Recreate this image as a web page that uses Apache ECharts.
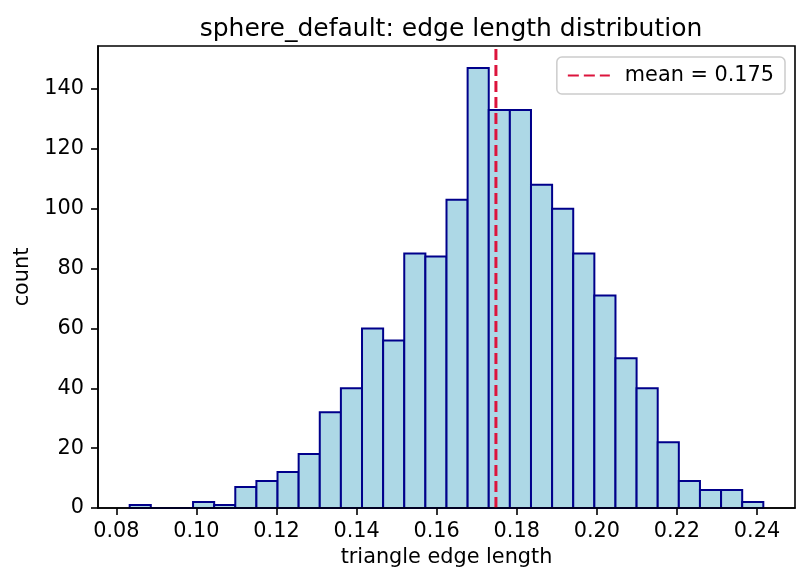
<!DOCTYPE html>
<html>
<head>
    <meta charset="utf-8">
    <title>sphere_default: edge length distribution</title>
    <script src="https://cdn.jsdelivr.net/npm/echarts@6.0.0/dist/echarts.min.js"></script>
    <style>
        html, body { margin: 0; padding: 0; background: #fff; }
    </style>
</head>
<body>
<div id="main" style="width: 810px;height:586px;"></div>

<script type="text/javascript">
    // histogram data
    var binLo = 0.08333;
    var binHi = 0.24158;
    var counts = [1, 0, 0, 2, 1, 7, 9, 12, 18, 32,
                  40, 60, 56, 85, 84, 103, 147, 133, 133, 108,
                  100, 85, 71, 50, 40, 22, 9, 6, 6, 2];
    var meanValue = 0.1748;
    var xTicks = [0.08, 0.10, 0.12, 0.14, 0.16, 0.18, 0.20, 0.22, 0.24];
    var yTicks = [0, 20, 40, 60, 80, 100, 120, 140];

    var font = 'DejaVu Sans';
    var labelSize = 20.8;

    // bins -> [left, right, count]
    var binWidth = (binHi - binLo) / counts.length;
    var bars = [];
    for (var i = 0; i < counts.length; i++) {
        bars.push([binLo + i * binWidth, binLo + (i + 1) * binWidth, counts[i]]);
    }

    // matplotlib style 5% margins
    var xPad = (binHi - binLo) * 0.05;
    var xMin = binLo - xPad;
    var xMax = binHi + xPad;
    var yMax = Math.max.apply(null, counts) * 1.05;

    var meanName = 'mean = ' + meanValue.toFixed(3);

    var myChart = echarts.init(document.getElementById('main'));

    var option = {
        animation: false,
        backgroundColor: '#ffffff',
        title: {
            text: 'sphere_default: edge length distribution',
            left: 446,
            textAlign: 'center',
            top: 12,
            textStyle: { fontFamily: font, fontSize: 25, fontWeight: 'normal', color: '#000' }
        },
        legend: {
            data: [meanName],
            right: 25,
            top: 57,
            orient: 'vertical',
            padding: [8, 11, 8, 10],
            itemWidth: 42,
            itemHeight: 20,
            // hide the round marker, keep only the dashed line
            itemStyle: { opacity: 0 },
            backgroundColor: 'rgba(255,255,255,0.8)',
            borderColor: '#cccccc',
            borderWidth: 1.5,
            borderRadius: 5,
            textStyle: { fontFamily: font, fontSize: labelSize, color: '#000', padding: [0, 0, 0, 10] }
        },
        grid: {
            show: true,
            left: 98,
            right: 15,
            top: 46,
            bottom: 78,
            borderColor: '#000',
            borderWidth: 1.6,
            backgroundColor: 'transparent'
        },
        xAxis: {
            type: 'value',
            min: xMin,
            max: xMax,
            z: 5,
            name: 'triangle edge length',
            nameLocation: 'middle',
            nameGap: 39,
            nameTextStyle: { fontFamily: font, fontSize: labelSize, color: '#000' },
            axisLine: { show: true, lineStyle: { color: '#000', width: 1.6 } },
            axisTick: { show: true, length: 7, lineStyle: { color: '#000', width: 1.6 }, customValues: xTicks },
            axisLabel: {
                margin: 13,
                fontFamily: font, fontSize: labelSize, color: '#000',
                customValues: xTicks,
                formatter: function (v) { return v.toFixed(2); }
            },
            splitLine: { show: false }
        },
        yAxis: {
            type: 'value',
            min: 0,
            max: yMax,
            z: 5,
            name: 'count',
            nameLocation: 'middle',
            nameGap: 64,
            nameTextStyle: { fontFamily: font, fontSize: labelSize, color: '#000' },
            axisLine: { show: true, lineStyle: { color: '#000', width: 1.6 } },
            axisTick: { show: true, length: 7, lineStyle: { color: '#000', width: 1.6 }, customValues: yTicks },
            axisLabel: {
                margin: 14,
                fontFamily: font, fontSize: labelSize, color: '#000',
                customValues: yTicks
            },
            splitLine: { show: false }
        },
        series: [{
            name: 'edges',
            type: 'custom',
            data: bars,
            encode: { x: [0, 1], y: 2 },
            renderItem: function (params, api) {
                var topLeft = api.coord([api.value(0), api.value(2)]);
                var bottomRight = api.coord([api.value(1), 0]);
                return {
                    type: 'rect',
                    shape: {
                        x: topLeft[0],
                        y: topLeft[1],
                        width: bottomRight[0] - topLeft[0],
                        height: bottomRight[1] - topLeft[1]
                    },
                    style: { fill: '#ADD8E6', stroke: '#00008B', lineWidth: 2 }
                };
            }
        }, {
            name: meanName,
            type: 'line',
            symbol: 'none',
            z: 4,
            data: [[meanValue, 0], [meanValue, yMax]],
            lineStyle: { color: '#DC143C', width: 3, type: [11, 5] },
            itemStyle: { color: '#DC143C' }
        }]
    };

    myChart.setOption(option);
</script>
</body>
</html>
